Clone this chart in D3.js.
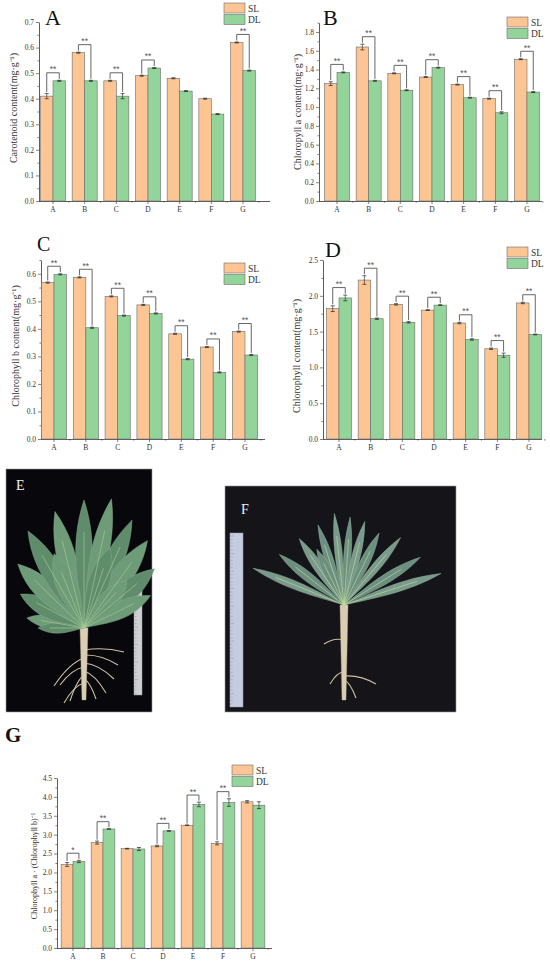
<!DOCTYPE html>
<html>
<head>
<meta charset="utf-8">
<script src="https://cdn.jsdelivr.net/npm/d3@7"></script>
<style>
  body { margin: 0; background: #fff; }
  svg { display: block; font-family: "Liberation Serif", "Times New Roman", serif; }
</style>
</head>
<body>
<div id="fig"></div>
<script>
// --- data ---
const categories = ["A", "B", "C", "D", "E", "F", "G"];

const carotenoidSL = [0.41, 0.58, 0.47, 0.49, 0.48, 0.40, 0.62];
const carotenoidDL = [0.47, 0.47, 0.41, 0.52, 0.43, 0.34, 0.51];
const carotenoidSLErr = [0.010, 0.002, 0.002, 0.002, 0.002, 0.002, 0.002];
const carotenoidDLErr = [0.002, 0.002, 0.010, 0.002, 0.002, 0.002, 0.002];
const carotenoidSig = ["**", "**", "**", "**", "", "", "**"];

const chlaSL = [1.25, 1.64, 1.36, 1.32, 1.24, 1.09, 1.51];
const chlaDL = [1.37, 1.28, 1.18, 1.42, 1.10, 0.94, 1.16];
const chlaSLErr = [0.02, 0.03, 0.005, 0.005, 0.005, 0.005, 0.005];
const chlaDLErr = [0.005, 0.005, 0.005, 0.005, 0.005, 0.01, 0.005];
const chlaSig = ["**", "**", "**", "**", "**", "**", "**"];

const chlbSL = [0.568, 0.587, 0.518, 0.487, 0.382, 0.334, 0.390];
const chlbDL = [0.598, 0.404, 0.448, 0.456, 0.290, 0.242, 0.305];
const chlbSLErr = [0.002, 0.002, 0.002, 0.002, 0.002, 0.002, 0.002];
const chlbDLErr = [0.002, 0.002, 0.002, 0.002, 0.002, 0.002, 0.002];
const chlbSig = ["**", "**", "**", "**", "**", "**", "**"];

const chlSL = [1.82, 2.22, 1.88, 1.80, 1.62, 1.26, 1.90];
const chlDL = [1.97, 1.68, 1.63, 1.87, 1.39, 1.17, 1.46];
const chlSLErr = [0.04, 0.06, 0.01, 0.005, 0.01, 0.01, 0.01];
const chlDLErr = [0.04, 0.01, 0.01, 0.005, 0.01, 0.03, 0.005];
const chlSig = ["**", "**", "**", "**", "**", "**", "**"];

const ratioSL = [2.21, 2.79, 2.63, 2.70, 3.25, 2.77, 3.87];
const ratioDL = [2.29, 3.15, 2.62, 3.10, 3.80, 3.85, 3.78];
const ratioSLErr = [0.05, 0.04, 0.01, 0.02, 0.005, 0.04, 0.03];
const ratioDLErr = [0.03, 0.005, 0.04, 0.01, 0.06, 0.10, 0.09];
const ratioSig = ["*", "**", "", "**", "**", "**", ""];

const seriesNames = ["SL", "DL"];
const seriesColors = ["#fcc593", "#93d49a"];

// --- layout ---
const W = 550, H = 965;
const svg = d3.select("#fig").append("svg")
  .attr("width", W).attr("height", H)
  .attr("viewBox", [0, 0, W, H]);

const panels = [
  {
    letter: "A", yLabel: "Carotenoid content(mg\u00b7g\u207b\u00b9)",
    sl: carotenoidSL, dl: carotenoidDL, slErr: carotenoidSLErr, dlErr: carotenoidDLErr, sig: carotenoidSig,
    yMax: 0.7, step: 0.1, axisX: 39, y0: 201, yTop: 22, xFirst: 53, xLast: 243, xEnd: 270,
    legend: [224, 3], letterPos: [45, 25], labelPos: [13, 108], labelSize: 10
  },
  {
    letter: "B", yLabel: "Chloropyll a  content(mg\u00b7g\u207b\u00b9)",
    sl: chlaSL, dl: chlaDL, slErr: chlaSLErr, dlErr: chlaDLErr, sig: chlaSig,
    yMax: 1.9, step: 0.2, axisX: 319, y0: 201, yTop: 22.6, xFirst: 337, xLast: 527, xEnd: 542,
    legend: [507, 17], letterPos: [323, 25], labelPos: [297, 112], labelSize: 10
  },
  {
    letter: "C", yLabel: "Chlorophyll b  content(mg\u00b7g\u207b\u00b9)",
    sl: chlbSL, dl: chlbDL, slErr: chlbSLErr, dlErr: chlbDLErr, sig: chlbSig,
    yMax: 0.65, step: 0.1, axisX: 41, y0: 439, yTop: 260, xFirst: 54, xLast: 245, xEnd: 265,
    legend: [224, 263], letterPos: [37, 251], labelPos: [15, 346], labelSize: 10
  },
  {
    letter: "D", yLabel: "Chlorophyll  content(mg\u00b7g\u207b\u00b9)",
    sl: chlSL, dl: chlDL, slErr: chlSLErr, dlErr: chlDLErr, sig: chlSig,
    yMax: 2.5, step: 0.5, axisX: 323, y0: 439, yTop: 260, xFirst: 339, xLast: 529, xEnd: 542,
    legend: [507, 247], letterPos: [325, 257], labelPos: [296, 356], labelSize: 10
  },
  {
    letter: null, yLabel: "Chlorophyll a \u00b7 (Chlorophyll b)\u207b\u00b9",
    sl: ratioSL, dl: ratioDL, slErr: ratioSLErr, dlErr: ratioDLErr, sig: ratioSig,
    yMax: 4.5, step: 0.5, axisX: 57, y0: 948, yTop: 778, xFirst: 73, xLast: 253, xEnd: 272,
    legend: [232, 765], letterPos: null, labelPos: [34, 866], labelSize: 8
  }
];

function drawPanel(p) {
  const g = svg.append("g");
  const stepPx = (p.xLast - p.xFirst) / (categories.length - 1);

  const x = d3.scaleBand()
    .domain(categories)
    .range([p.xFirst - stepPx / 2, p.xLast + stepPx / 2]);
  const bw = x.bandwidth();
  const xSub = d3.scaleBand()
    .domain(seriesNames)
    .range([bw * 0.105, bw * 0.895]);

  const y = d3.scaleLinear()
    .domain([0, p.yMax])
    .range([p.y0, p.yTop]);

  // y axis: major + minor ticks
  const nMaj = Math.floor(p.yMax / p.step + 1e-6);
  const major = d3.range(0, nMaj + 1).map(i => +(i * p.step).toFixed(3));
  const minor = d3.range(0, nMaj * 2 + 2).map(i => +(i * p.step / 2).toFixed(3))
    .filter(v => v <= p.yMax + 1e-6 && !major.includes(v));

  const yAxis = g.append("g")
    .attr("transform", `translate(${p.axisX},0)`)
    .call(d3.axisLeft(y).tickValues(major).tickFormat(d3.format(".1f")).tickSize(3).tickSizeOuter(0).tickPadding(2));
  g.append("g")
    .attr("transform", `translate(${p.axisX},0)`)
    .call(d3.axisLeft(y).tickValues(minor).tickFormat("").tickSize(1.6).tickSizeOuter(0))
    .select(".domain").remove();
  yAxis.select(".domain").attr("stroke", "#333").attr("stroke-width", 0.8);

  // x axis line with major ticks at categories, minor ticks between
  const xAxis = g.append("g")
    .attr("transform", `translate(0,${p.y0})`)
    .call(d3.axisBottom(x).tickSize(3).tickSizeOuter(0).tickPadding(2.5));
  xAxis.select(".domain").attr("d", `M${p.axisX},0.5H${p.xEnd}`).attr("stroke", "#333").attr("stroke-width", 0.8);
  const bounds = categories.map(c => x(c) + bw);
  g.append("g").selectAll("line").data(bounds).join("line")
    .attr("x1", d => d).attr("x2", d => d)
    .attr("y1", p.y0).attr("y2", p.y0 + 1.6)
    .attr("stroke", "#333").attr("stroke-width", 0.6);

  [yAxis, xAxis].forEach(ax => {
    ax.selectAll(".tick text").attr("font-family", "Liberation Serif").attr("font-size", 7.5).attr("fill", "#333");
  });
  g.selectAll(".tick line").attr("stroke", "#333").attr("stroke-width", 0.6);

  // bars
  const rows = categories.map((c, i) => ({
    cat: c,
    vals: [
      { s: "SL", v: p.sl[i], e: p.slErr[i] },
      { s: "DL", v: p.dl[i], e: p.dlErr[i] }
    ],
    sig: p.sig[i]
  }));

  const grp = g.append("g").selectAll("g").data(rows).join("g")
    .attr("transform", d => `translate(${x(d.cat)},0)`);

  grp.selectAll("rect").data(d => d.vals).join("rect")
    .attr("x", d => xSub(d.s))
    .attr("y", d => y(d.v))
    .attr("width", xSub.bandwidth())
    .attr("height", d => y(0) - y(d.v))
    .attr("fill", (d, i) => seriesColors[i])
    .attr("stroke", "#6b6b6b")
    .attr("stroke-width", 0.6);

  // error bars
  const eb = grp.selectAll("g.err").data(d => d.vals).join("g").attr("class", "err")
    .attr("transform", d => `translate(${xSub(d.s) + xSub.bandwidth() / 2},0)`);
  eb.append("line")
    .attr("y1", d => y(d.v - d.e)).attr("y2", d => y(d.v + d.e))
    .attr("stroke", "#222").attr("stroke-width", 0.6);
  eb.selectAll("line.cap").data(d => [d.v - d.e, d.v + d.e]).join("line").attr("class", "cap")
    .attr("x1", -2).attr("x2", 2)
    .attr("y1", d => y(d)).attr("y2", d => y(d))
    .attr("stroke", "#222").attr("stroke-width", 0.7);

  // significance brackets
  grp.filter(d => d.sig).each(function (d) {
    const sel = d3.select(this);
    const xl = xSub("SL") + xSub.bandwidth() / 2;
    const xr = xSub("DL") + xSub.bandwidth() / 2;
    const topL = d.vals[0].v + d.vals[0].e;
    const topR = d.vals[1].v + d.vals[1].e;
    const top = Math.max(topL, topR) + p.yMax * 0.042;
    sel.append("path")
      .attr("d", `M${xl},${y(topL) - 1.5}V${y(top)}H${xr}V${y(topR) - 1.5}`)
      .attr("fill", "none").attr("stroke", "#555").attr("stroke-width", 0.9);
    sel.append("text")
      .attr("x", (xl + xr) / 2).attr("y", y(top) - 0.5)
      .attr("text-anchor", "middle")
      .attr("font-family", "Liberation Sans").attr("font-size", 8.5).attr("fill", "#555")
      .text(d.sig);
  });

  // y label
  g.append("text")
    .attr("transform", `translate(${p.labelPos[0]},${p.labelPos[1]}) rotate(-90)`)
    .attr("text-anchor", "middle")
    .attr("dominant-baseline", "central")
    .attr("font-size", p.labelSize).attr("fill", "#333")
    .text(p.yLabel);

  // legend
  const lg = g.append("g").attr("transform", `translate(${p.legend[0]},${p.legend[1]})`);
  const li = lg.selectAll("g").data(seriesNames).join("g")
    .attr("transform", (d, i) => `translate(0,${i * 11.5})`);
  li.append("rect").attr("width", 21).attr("height", 10)
    .attr("fill", (d, i) => seriesColors[i]).attr("stroke", "#6b6b6b").attr("stroke-width", 0.6);
  li.append("text").attr("x", 24).attr("y", 8.5)
    .attr("font-size", 9.5).attr("fill", "#333").text(d => d);

  if (p.letter) {
    g.append("text")
      .attr("x", p.letterPos[0]).attr("y", p.letterPos[1])
      .attr("font-size", p.letter === "C" ? 20 : 22).attr("fill", "#111")
      .text(p.letter);
  }
}

panels.forEach(drawPanel);

svg.append("text")
  .attr("x", 5).attr("y", 742)
  .attr("font-size", 21).attr("font-weight", "bold").attr("fill", "#111")
  .text("G");

// --- photo panels E and F (illustrative stand-ins for the photographs) ---
function leafPath(bx, by, angleDeg, len, wid) {
  const a = angleDeg * Math.PI / 180;
  const dx = Math.sin(a), dy = -Math.cos(a);
  const nx = -dy, ny = dx;
  const tx = bx + dx * len, ty = by + dy * len;
  const m1x = bx + dx * len * 0.62, m1y = by + dy * len * 0.62;
  const p = d3.path();
  p.moveTo(bx, by);
  p.bezierCurveTo(bx + dx * len * 0.3 + nx * wid * 0.3, by + dy * len * 0.3 + ny * wid * 0.3,
                  m1x + nx * wid, m1y + ny * wid, tx, ty);
  p.bezierCurveTo(m1x - nx * wid, m1y - ny * wid,
                  bx + dx * len * 0.3 - nx * wid * 0.3, by + dy * len * 0.3 - ny * wid * 0.3, bx, by);
  return p.toString();
}

function drawPhoto(o) {
  const g = svg.append("g");
  g.append("rect").attr("x", o.x).attr("y", o.y).attr("width", o.w).attr("height", o.h)
    .attr("fill", o.bg).attr("stroke", "#999").attr("stroke-width", 0.6);

  // ruler
  g.append("rect").attr("x", o.ruler[0]).attr("y", o.ruler[1]).attr("width", o.ruler[2]).attr("height", o.ruler[3])
    .attr("fill", o.rulerColor).attr("stroke", "#9aa0a8").attr("stroke-width", 0.5);
  const nt = Math.floor(o.ruler[3] / 3.5);
  g.append("g").selectAll("line").data(d3.range(nt)).join("line")
    .attr("x1", o.ruler[0] + 1).attr("x2", d => o.ruler[0] + 1 + (d % 5 === 0 ? 3 : 1.6))
    .attr("y1", d => o.ruler[1] + 3 + d * 3.5).attr("y2", d => o.ruler[1] + 3 + d * 3.5)
    .attr("stroke", "#7a7f9a").attr("stroke-width", 0.4);

  // rootlets then taproot
  g.append("g").selectAll("path").data(o.rootlets).join("path")
    .attr("d", d => `M${o.base[0]},${d[0]}q${d[1] / 2},${d[2] / 3 - 4} ${d[1]},${d[2]}`)
    .attr("fill", "none").attr("stroke", "#cdbf9f").attr("stroke-width", 1.1);
  g.append("path")
    .attr("d", `M${o.base[0] - o.rootW},${o.base[1]}L${o.base[0] - 2},${o.rootEnd}L${o.base[0] + 2},${o.rootEnd}L${o.base[0] + o.rootW},${o.base[1]}Z`)
    .attr("fill", "#d9ceb4").attr("stroke", "#b8ab8c").attr("stroke-width", 0.4);

  // leaves
  g.append("g").selectAll("path").data(o.leaves).join("path")
    .attr("d", d => leafPath(o.base[0], o.base[1], d[0], d[1], d[2]))
    .attr("fill", (d, i) => i % 2 ? o.leafColor : o.leafColor2)
    .attr("stroke", o.leafEdge).attr("stroke-width", 0.5);
  g.append("g").selectAll("line").data(o.leaves).join("line")
    .attr("x1", o.base[0]).attr("y1", o.base[1])
    .attr("x2", d => o.base[0] + Math.sin(d[0] * Math.PI / 180) * d[1] * 0.75)
    .attr("y2", d => o.base[1] - Math.cos(d[0] * Math.PI / 180) * d[1] * 0.75)
    .attr("stroke", o.ribColor).attr("stroke-width", 0.6);

  g.append("text").attr("x", o.label[0]).attr("y", o.label[1])
    .attr("font-size", 14).attr("fill", "#f2f2f2").text(o.letter);
}

drawPhoto({
  letter: "E", x: 6, y: 469, w: 146, h: 243, bg: "#07070c",
  label: [16, 490], ruler: [134, 589, 8, 106], rulerColor: "#cfd0d4",
  base: [84, 628], rootEnd: 700, rootW: 4,
  rootlets: [[650, 40, 2], [655, 34, 10], [658, -30, 28], [663, 30, 16], [667, -24, 18], [671, 22, 22],
             [675, -14, 26], [679, 12, 20], [683, -20, 20]],
  leaves: [[-80, 58, 13], [-62, 72, 17], [-46, 92, 19], [-30, 112, 19], [-14, 120, 18], [0, 128, 16],
           [12, 132, 17], [24, 118, 18], [36, 108, 20], [50, 92, 20], [64, 74, 16], [-90, 46, 10],
           [-22, 80, 20], [18, 84, 20], [42, 64, 18]],
  leafColor: "#5f8c6b", leafColor2: "#6e9b78", leafEdge: "#86ad8f", ribColor: "#a9cf98"
});

drawPhoto({
  letter: "F", x: 225, y: 486, w: 231, h: 226, bg: "#141419",
  label: [241, 514], ruler: [230, 533, 13, 174], rulerColor: "#c5cbe0",
  base: [344, 605], rootEnd: 700, rootW: 4,
  rootlets: [[640, -20, 4], [672, -14, 12], [676, 32, 8], [680, 12, 18]],
  leaves: [[-68, 98, 8], [-52, 82, 9], [-34, 80, 9], [-18, 84, 8], [-6, 92, 7], [4, 88, 7],
           [14, 86, 8], [26, 80, 9], [40, 88, 8], [58, 90, 9], [72, 102, 8], [-26, 62, 9]],
  leafColor: "#6c8f7f", leafColor2: "#7a9a8c", leafEdge: "#93b3a0", ribColor: "#c6e29a"
});
</script>
</body>
</html>
